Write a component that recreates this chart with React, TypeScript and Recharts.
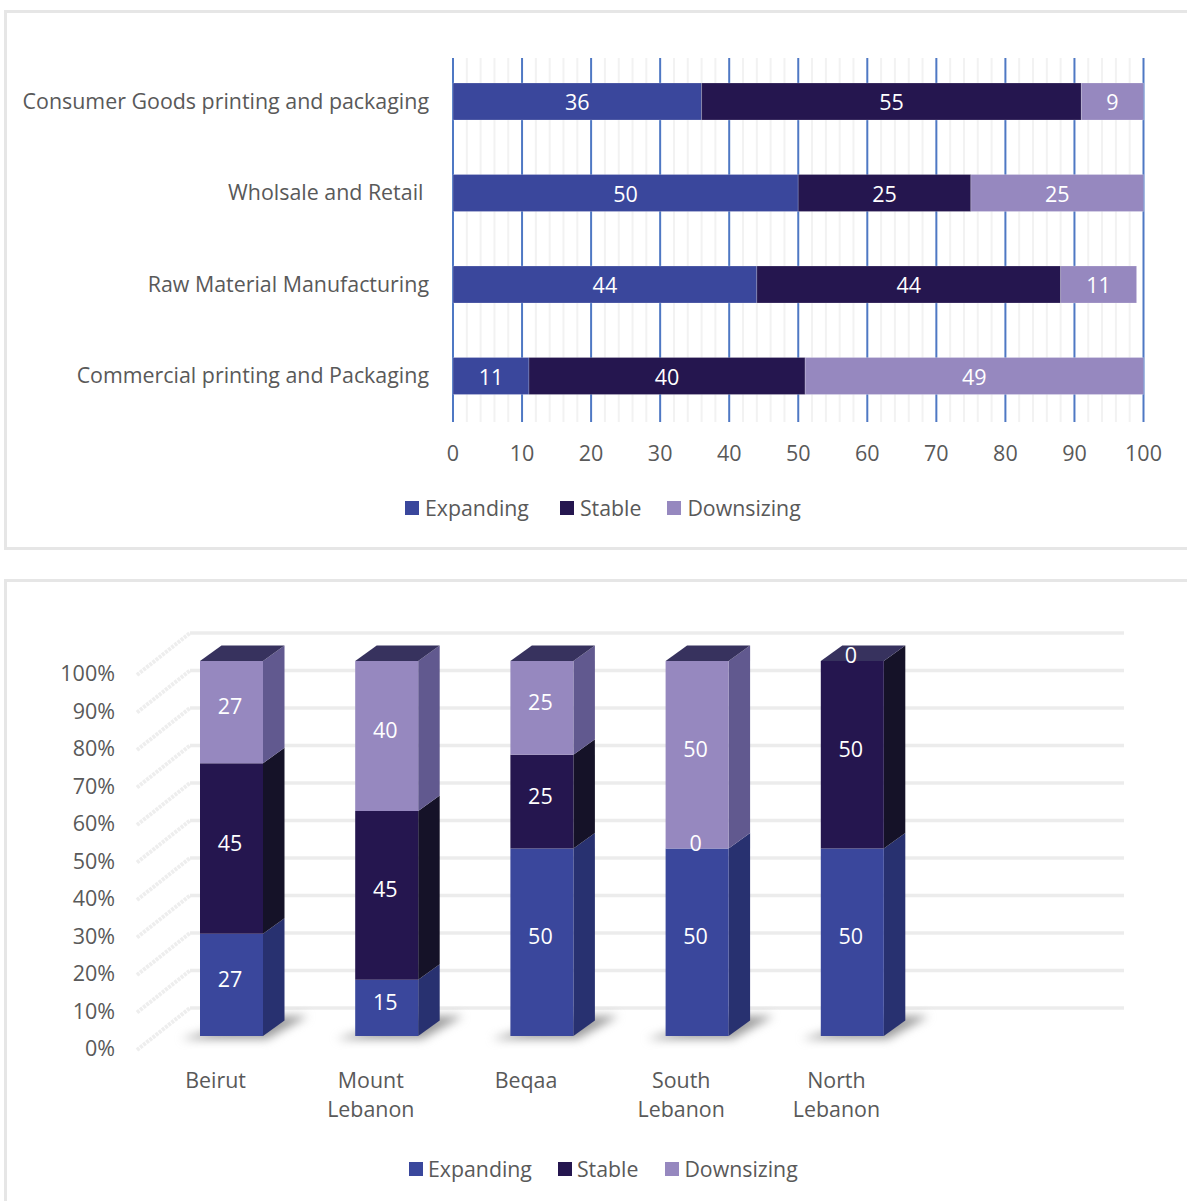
import { Bar, BarChart, CartesianGrid, LabelList, Legend, XAxis, YAxis } from 'recharts'

const sectors = [
  'Consumer Goods printing and packaging',
  'Wholsale and Retail ',
  'Raw Material Manufacturing',
  'Commercial printing and Packaging',
]
const sectorExpanding = [36, 50, 44, 11]
const sectorStable = [55, 25, 44, 40]
const sectorDownsizing = [9, 25, 11, 49]
const sectorTicks = [0, 10, 20, 30, 40, 50, 60, 70, 80, 90, 100]
const sectorMinorTicks = [2, 4, 6, 8, 12, 14, 16, 18, 22, 24, 26, 28, 32, 34, 36, 38, 42, 44, 46, 48, 52, 54, 56, 58, 62, 64, 66, 68, 72, 74, 76, 78, 82, 84, 86, 88, 92, 94, 96, 98]

const regions = ['Beirut', 'Mount Lebanon', 'Beqaa', 'South Lebanon', 'North Lebanon']
const regionExpanding = [27, 15, 50, 50, 50]
const regionStable = [45, 45, 25, 0, 50]
const regionDownsizing = [27, 40, 25, 50, 0]
const shareTicks = [0, 0.1, 0.2, 0.3, 0.4, 0.5, 0.6, 0.7, 0.8, 0.9, 1]

const sectorData = sectors.map((name, i) => ({
  name,
  expanding: sectorExpanding[i],
  stable: sectorStable[i],
  downsizing: sectorDownsizing[i],
}))
const regionData = regions.map((name, i) => ({
  name,
  expanding: regionExpanding[i],
  stable: regionStable[i],
  downsizing: regionDownsizing[i],
}))

const FONT = '"Open Sans", sans-serif'
const TEXT = '#595959'
const BLUE = '#3a479c'
const NAVY = '#25164f'
const LILAC = '#9688bf'
const DEPTH_X = 21.5
const DEPTH_Y = 15.5

const legendItems = [
  { label: 'Expanding', color: BLUE },
  { label: 'Stable', color: NAVY },
  { label: 'Downsizing', color: LILAC },
]

function KeyRow({ left, gaps, inset }: { left: number; gaps: number[]; inset: number }) {
  return (
    <div style={{ display: 'flex', paddingLeft: left, fontFamily: FONT, fontSize: 21.3, color: TEXT, lineHeight: '30px' }}>
      {legendItems.map((item, i) => (
        <div key={item.label} style={{ display: 'flex', alignItems: 'center', marginRight: gaps[i] }}>
          <span style={{ width: 14, height: 14, background: item.color, marginRight: inset }} />
          {item.label}
        </div>
      ))}
    </div>
  )
}

function SectorTick({ x, y, payload }: any) {
  return (
    <text x={x} y={y + 7} textAnchor="end" fontFamily={FONT} fontSize={21.4} fill={TEXT} style={{ whiteSpace: 'pre' }}>
      {payload.value}
    </text>
  )
}

function ShareTick({ y, payload }: any) {
  return (
    <text x={115} y={y + 20} textAnchor="end" fontFamily={FONT} fontSize={21.5} fill={TEXT}>
      {Math.round(payload.value * 100)}%
    </text>
  )
}

function RegionTick({ x, y, payload }: any) {
  const words = String(payload.value).split(' ')
  return (
    <text y={y + 51.5} textAnchor="middle" fontFamily={FONT} fontSize={21.4} fill={TEXT}>
      {words.map((word, i) => (
        <tspan key={word} x={x - 16} dy={i === 0 ? 0 : 29}>
          {word}
        </tspan>
      ))}
    </text>
  )
}

function WallLine(props: any) {
  const { x1, x2, y1 } = props
  const backY = y1 - 28
  const wallX = x1 + 36
  return (
    <g>
      <line x1={wallX - 53} y1={backY + 42} x2={wallX} y2={backY} stroke="#eeeeee" strokeWidth={4} strokeDasharray="3 1" />
      <line x1={wallX} y1={backY} x2={x2 + 194} y2={backY} stroke="#ececec" strokeWidth={3.5} />
    </g>
  )
}

// Front face plus the extruded side; the top cap only belongs to the last series
function Column({ x, y, width, height, front, side, cap, shadow }: any) {
  const right = x + width
  const bottom = y + height
  return (
    <g>
      {shadow && (
        <polygon
          points={`${x - 19},${bottom + 3} ${right + 4},${bottom + 3} ${right + 45},${bottom - 20} ${right},${bottom - 20}`}
          fill="#8c8c8c"
          fillOpacity={0.85}
          style={{ filter: 'blur(5px)' }}
        />
      )}
      <polygon
        points={`${right},${y} ${right + DEPTH_X},${y - DEPTH_Y} ${right + DEPTH_X},${bottom - DEPTH_Y} ${right},${bottom}`}
        fill={side}
      />
      <rect x={x} y={y} width={width} height={height} fill={front} />
      {cap && (
        <polygon
          points={`${x},${y} ${right},${y} ${right + DEPTH_X},${y - DEPTH_Y} ${x + DEPTH_X},${y - DEPTH_Y}`}
          fill={cap}
        />
      )}
    </g>
  )
}

function ColumnLabel({ x, y, width, height, value }: any) {
  return (
    <text x={x + width / 2 - 1.5} y={y + height / 2 + 2} textAnchor="middle" fontFamily={FONT} fontSize={21.5} fill="#ffffff">
      {value}
    </text>
  )
}

const barLabel = { fill: '#ffffff', fontSize: 21.5, fontFamily: FONT, dy: 1 }
const barEdge = { stroke: 'rgba(255,255,255,0.2)', strokeWidth: 1 }

function SectorChart() {
  return (
    <BarChart
      layout="vertical"
      width={1187}
      height={550}
      data={sectorData}
      margin={{ top: 56, right: 43.5, bottom: 58, left: 0 }}
    >
      <CartesianGrid
        horizontal={false}
        verticalValues={sectorMinorTicks}
        vertical={(p: any) => <line key={p.key} x1={p.x1} x2={p.x2} y1={p.y1 + 2} y2={p.y2} stroke="#f2f2f2" strokeWidth={2} />}
      />
      <CartesianGrid
        horizontal={false}
        verticalValues={sectorTicks}
        vertical={(p: any) => <line key={p.key} x1={p.x1} x2={p.x2} y1={p.y1 + 2} y2={p.y2} stroke="#4f78c4" strokeWidth={2} />}
      />
      <XAxis
        type="number"
        domain={[0, 100]}
        ticks={sectorTicks}
        height={40}
        axisLine={false}
        tickLine={false}
        tickMargin={18}
        tick={{ fontSize: 21.5, fontFamily: FONT, fill: TEXT }}
        interval={0}
      />
      <YAxis
        type="category"
        dataKey="name"
        width={453}
        axisLine={false}
        tickLine={false}
        tickSize={0}
        tickMargin={24}
        interval={0}
        tick={<SectorTick />}
      />
      <Legend verticalAlign="bottom" height={30} wrapperStyle={{ left: 0, top: 493, width: 1187 }} content={() => <KeyRow left={405} inset={6} gaps={[31, 26, 0]} />} />
      <Bar dataKey="expanding" name="Expanding" stackId="a" barSize={37} fill={BLUE} {...barEdge} isAnimationActive={false}>
        <LabelList dataKey="expanding" position="center" {...barLabel} />
      </Bar>
      <Bar dataKey="stable" name="Stable" stackId="a" barSize={37} fill={NAVY} {...barEdge} isAnimationActive={false}>
        <LabelList dataKey="stable" position="center" {...barLabel} />
      </Bar>
      <Bar dataKey="downsizing" name="Downsizing" stackId="a" barSize={37} fill={LILAC} {...barEdge} isAnimationActive={false}>
        <LabelList dataKey="downsizing" position="center" {...barLabel} />
      </Bar>
    </BarChart>
  )
}

function RegionChart() {
  return (
    <BarChart
      width={1187}
      height={641}
      data={regionData}
      stackOffset="expand"
      margin={{ top: 101, right: 257, bottom: 75, left: 0 }}
    >
      <CartesianGrid vertical={false} horizontalValues={shareTicks} horizontal={(p: any) => <WallLine key={p.key} {...p} />} />
      <XAxis dataKey="name" height={60} axisLine={false} tickLine={false} tickSize={0} tickMargin={0} interval={0} tick={<RegionTick />} />
      <YAxis type="number" domain={[0, 1]} ticks={shareTicks} width={154} axisLine={false} tickLine={false} interval={0} tick={<ShareTick />} />
      <Legend verticalAlign="bottom" height={30} wrapperStyle={{ left: 0, top: 594, width: 1187 }} content={() => <KeyRow left={409} inset={5} gaps={[26, 27, 0]} />} />
      <Bar
        dataKey="expanding"
        name="Expanding"
        stackId="a"
        barSize={63}
        fill={BLUE}
        isAnimationActive={false}
        shape={(p: any) => <Column {...p} front={BLUE} side="#283170" shadow />}
      >
        <LabelList dataKey="expanding" content={<ColumnLabel />} />
      </Bar>
      <Bar
        dataKey="stable"
        name="Stable"
        stackId="a"
        barSize={63}
        fill={NAVY}
        isAnimationActive={false}
        shape={(p: any) => <Column {...p} front={NAVY} side="#151228" />}
      >
        <LabelList dataKey="stable" content={<ColumnLabel />} />
      </Bar>
      <Bar
        dataKey="downsizing"
        name="Downsizing"
        stackId="a"
        barSize={63}
        fill={LILAC}
        isAnimationActive={false}
        shape={(p: any) => <Column {...p} front={LILAC} side="#61598f" cap="#37325e" />}
      >
        <LabelList dataKey="downsizing" content={<ColumnLabel />} />
      </Bar>
    </BarChart>
  )
}

const frame = { position: 'absolute', left: 4, width: 1200, border: '3px solid #e6e6e6', boxSizing: 'border-box' } as const

export default function App() {
  return (
    <div style={{ position: 'absolute', left: 0, top: 0, width: 1187, height: 1201, overflow: 'hidden', background: '#ffffff' }}>
      <div style={{ ...frame, top: 10, height: 540 }} />
      <div style={{ ...frame, top: 579, height: 640 }} />
      <div style={{ position: 'absolute', left: 0, top: 0 }}>
        <SectorChart />
      </div>
      <div style={{ position: 'absolute', left: 0, top: 560 }}>
        <RegionChart />
      </div>
    </div>
  )
}
